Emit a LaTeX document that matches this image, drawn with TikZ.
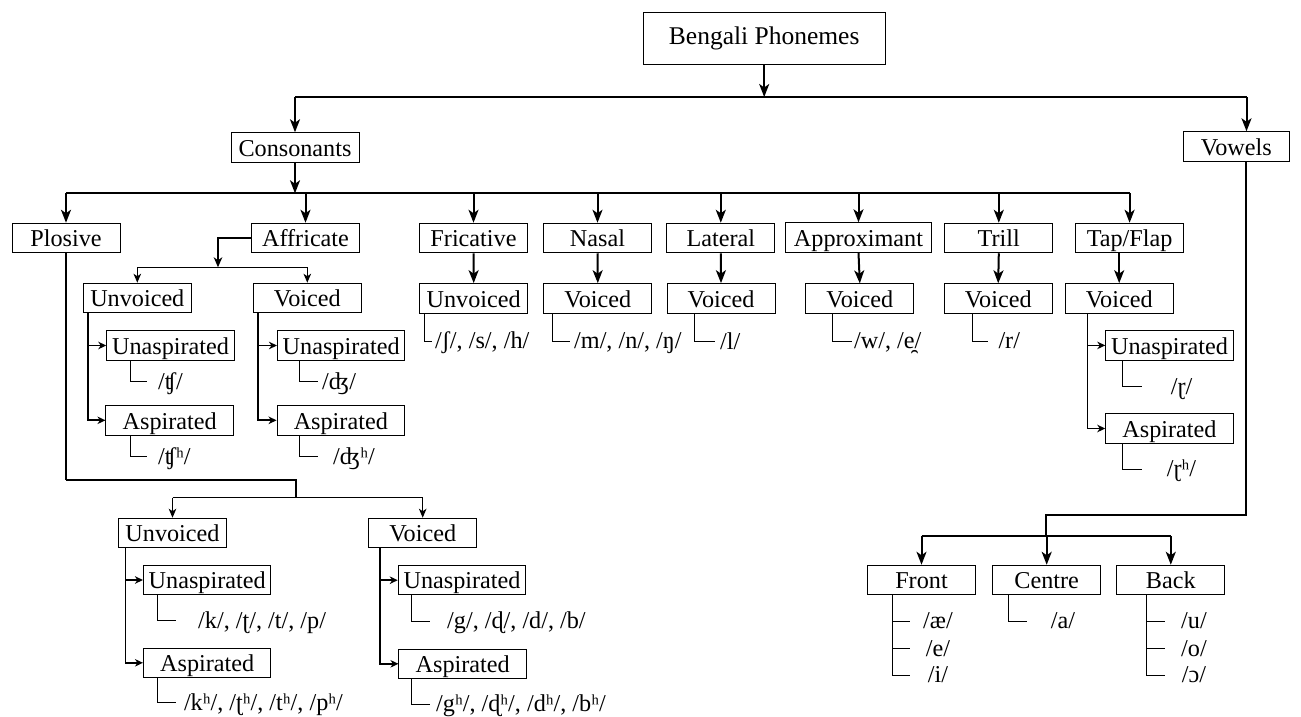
\documentclass[tikz,border=0pt]{standalone}
\usepackage{fontspec}
\setmainfont{Liberation Serif}
\usetikzlibrary{arrows.meta,calc}
\begin{document}
\begin{tikzpicture}[x=1pt,y=-1pt,
  every node/.style={font=\fontsize{24.2}{28}\selectfont},
  box/.style={draw, line width=1pt, inner xsep=0pt, inner ysep=3pt, minimum width=108pt, text height=20.5pt, text depth=3pt},
  wbox/.style={box, minimum width=127.5pt},
  ph/.style={anchor=west, inner sep=0pt, text height=19pt, text depth=4pt},
  phc/.style={anchor=center, inner sep=0pt, text height=19pt, text depth=4pt},
  big/.style={line width=2pt, -{Stealth[length=13pt,width=10pt,inset=3.5pt]}},
  thk/.style={line width=2pt},
  thn/.style={line width=1.3pt},
  mid/.style={line width=1.3pt, -{Stealth[length=9pt,width=7.5pt,inset=2.5pt]}},
  midthk/.style={line width=2pt, -{Stealth[length=10pt,width=8.5pt,inset=3pt]}},
  sml/.style={line width=1.7pt, -{Stealth[length=8pt,width=7.5pt,inset=2.5pt]}},
  tree/.style={line width=1pt}
]
\useasboundingbox (0,0) rectangle (1301,716);

% ---------- top levels ----------
\node[draw, line width=1pt, minimum width=241.7pt, minimum height=52pt, inner sep=0pt, font=\fontsize{25.5}{30}\selectfont] (bp) at (764.2,38.3) {Bengali Phonemes};
\node[box, minimum width=128pt] (cons) at (295,147.5) {Consonants};
\node[box, minimum width=106pt] (vow) at (1236.3,146.5) {Vowels};

\coordinate (j0) at (764.2,97);
\coordinate (jc) at (295,97);
\coordinate (jv) at (1246.5,97);
\draw[big] (bp.south) -- (j0);
\draw[thk] (jc) -- (jv);
\draw[big] (jc) -- (cons.north);
\draw[big] (jv) -- (jv |- vow.north);

% ---------- consonant classes ----------
\node[box] (plo) at (66,238) {Plosive};
\node[box] (aff) at (305.5,238) {Affricate};
\node[box] (fri) at (473.5,238) {Fricative};
\node[box] (nas) at (597.5,238) {Nasal};
\node[box] (lat) at (720.8,238) {Lateral};
\node[box, minimum width=145.7pt] (app) at (858.5,237.5) {Approximant};
\node[box] (tri) at (998.8,238) {Trill};
\node[box] (tap) at (1129.6,238) {Tap/Flap};

\coordinate (k0) at (295,193.3);
\draw[big] (cons.south) -- (k0);
\draw[thk] (plo.north |- k0) -- (tap.north |- k0);
\foreach \n in {plo,aff,fri,nas,lat,app,tri,tap}
  \draw[big] (\n.north |- k0) -- (\n.north);

% ---------- second row ----------
\node[box] (fu) at (473.7,298.4) {Unvoiced};
\node[box] (nv) at (597.8,298.4) {Voiced};
\node[box] (lv) at (721,298.4) {Voiced};
\node[box] (av) at (859.8,298.6) {Voiced};
\node[box] (tv) at (998.2,298.5) {Voiced};
\node[box] (tpv) at (1119.2,298.4) {Voiced};

\draw[big] (fri.south) -- (fu.north);
\draw[big] (nas.south) -- (nv.north);
\draw[big] (lat.south) -- (lv.north);
\draw[big] (app.south) -- (av.north);
\draw[big] (tri.south) -- (tv.north);
\draw[big] (tpv.north |- tap.south) -- (tpv.north);

\node[ph] (fut) at (435,341) {/ʃ/, /s/, /h/};
\node[ph] (nvt) at (574,341) {/m/, /n/, /ŋ/};
\node[ph] (lvt) at (720,341.5) {/l/};
\node[ph] (avt) at (854,341) {/w/, /e̯/};
\node[ph] (tvt) at (998.3,341) {/r/};
\draw[tree] ($(fu.south west)+(5.7,0)$) |- ([xshift=-3.3pt]fut.west);
\draw[tree] ($(nv.south west)+(8.7,0)$) |- ([xshift=-4pt]nvt.west);
\draw[tree] ($(lv.south west)+(28.4,0)$) |- ([xshift=-5pt]lvt.west);
\draw[tree] ($(av.south west)+(27,0)$) |- ([xshift=-2.3pt]avt.west);
\draw[tree] ($(tv.south west)+(28.7,0)$) |- ([xshift=-10pt]tvt.west);

% ---------- tap/flap subtree ----------
\node[wbox] (tpu) at (1169.5,345.4) {Unaspirated};
\node[wbox] (tpa) at (1169.5,428.5) {Aspirated};
\coordinate (tp1) at ($(tpv.south west)+(22.7,0)$);
\draw[sml] (tp1) |- (tpa.west);
\draw[sml] (tp1 |- tpu.west) -- (tpu.west);
\node[ph] (tput) at (1170.7,386.7) {/ɽ/};
\node[ph] (tpat) at (1166.7,469.3) {/ɽʰ/};
\draw[tree] ($(tpu.south west)+(17.6,0)$) |- ([xshift=-29pt]tput.west);
\draw[tree] ($(tpa.south west)+(17.6,0)$) |- ([xshift=-25pt]tpat.west);

% ---------- affricate subtree ----------
\node[box] (au) at (137.3,298) {Unvoiced};
\node[box] (avd) at (307.3,298) {Voiced};
\coordinate (a1) at (218,267.3);
\draw[midthk] (aff.west) -| (a1);
\draw[thn] (au.north |- a1) -- (avd.north |- a1);
\draw[mid] (au.north |- a1) -- (au.north);
\draw[mid] (avd.north |- a1) -- (avd.north);

\node[wbox] (auu) at (170.5,345.5) {Unaspirated};
\node[wbox] (aua) at (169.7,420.3) {Aspirated};
\node[wbox] (avu) at (341.2,345.5) {Unaspirated};
\node[wbox] (ava) at (340.8,420.3) {Aspirated};
\coordinate (au1) at ($(au.south west)+(5,0)$);
\draw[sml] (au1) |- (aua.west);
\draw[sml] (au1 |- auu.west) -- (auu.west);
\coordinate (av1) at ($(avd.south west)+(5,0)$);
\draw[sml] (av1) |- (ava.west);
\draw[sml] (av1 |- avu.west) -- (avu.west);

\node[ph] (auut) at (158,381.7) {/ʧ/};
\node[ph] (auat) at (158,456.7) {/ʧʰ/};
\node[ph] (avut) at (322,381.7) {/ʤ/};
\node[ph] (avat) at (333,456.7) {/ʤʰ/};
\draw[tree] ($(auu.south west)+(24.3,0)$) |- ([xshift=-11.3pt]auut.west);
\draw[tree] ($(aua.south west)+(25,0)$) |- ([xshift=-11.3pt]auat.west);
\draw[tree] ($(avu.south west)+(22.7,0)$) |- ([xshift=-4pt]avut.west);
\draw[tree] ($(ava.south west)+(22.7,0)$) |- ([xshift=-15pt]avat.west);

% ---------- plosive subtree ----------
\node[box] (pu) at (172.5,533) {Unvoiced};
\node[box] (pv) at (422.7,533) {Voiced};
\coordinate (p1) at (296,480);
\coordinate (p2) at (296,497.7);
\draw[thk] (plo.south) -- (plo.south |- p1);
\draw[thn] (plo.south |- p1) -- (p1) -- (p2);
\draw[thn] (pu.north |- p2) -- (pv.north |- p2);
\draw[mid] (pu.north |- p2) -- (pu.north);
\draw[mid] (pv.north |- p2) -- (pv.north);

\node[wbox] (puu) at (207.2,580) {Unaspirated};
\node[wbox] (pua) at (207.2,662.8) {Aspirated};
\node[wbox] (pvu) at (462,580.2) {Unaspirated};
\node[wbox] (pva) at (462.7,663.8) {Aspirated};
\coordinate (pu1) at ($(pu.south west)+(7.4,0)$);
\draw[sml] (pu1) |- (pua.west);
\draw[sml] (pu1 |- puu.west) -- (puu.west);
\coordinate (pv1) at ($(pv.south west)+(11.8,0)$);
\draw[sml] (pv1) |- (pva.west);
\draw[sml] (pv1 |- pvu.west) -- (pvu.west);

\node[ph] (puut) at (198,620.7) {/k/, /ʈ/, /t/, /p/};
\node[ph] (puat) at (183.8,702.7) {/kʰ/, /ʈʰ/, /tʰ/, /pʰ/};
\node[ph] (pvut) at (447,621) {/g/, /ɖ/, /d/, /b/};
\node[ph] (pvat) at (436,704.3) {/gʰ/, /ɖʰ/, /dʰ/, /bʰ/};
\draw[tree] ($(puu.south west)+(14.5,0)$) |- ([xshift=-22pt]puut.west);
\draw[tree] ($(pua.south west)+(14.5,0)$) |- ([xshift=-7.8pt]puat.west);
\draw[tree] ($(pvu.south west)+(13.9,0)$) |- ([xshift=-17pt]pvut.west);
\draw[tree] ($(pva.south west)+(13.3,0)$) |- ([xshift=-6pt]pvat.west);

% ---------- vowels ----------
\node[box] (fr) at (921.5,580) {Front};
\node[box] (ce) at (1046.7,580) {Centre};
\node[box] (ba) at (1170.8,580) {Back};
\coordinate (v1) at (1245.7,515);
\coordinate (v2) at (1045.7,515);
\coordinate (v3) at (1045.7,536);
\draw[thk] (vow.south -| v1) -- (v1) -- (v2) -- (v3);
\draw[thk] (fr.north |- v3) -- (ba.north |- v3);
\draw[big] (fr.north |- v3) -- (fr.north);
\draw[big] (ce.north |- v3) -- (ce.north);
\draw[big] (ba.north |- v3) -- (ba.north);

\node[phc] (fr1) at (938,621) {/æ/};
\node[phc] (fr2) at (938,648.7) {/e/};
\node[phc] (fr3) at (938,675) {/i/};
\coordinate (fl) at ($(fr.south west)+(25.4,0)$);
\draw[tree] (fl) |- ($(fl |- fr3)+(17.3,0)$);
\draw[tree] (fl |- fr1) -- ++(17.3,0);
\draw[tree] (fl |- fr2) -- ++(17.3,0);

\node[ph] (ce1) at (1050.7,621) {/a/};
\draw[tree] ($(ce.south west)+(16.3,0)$) |- ([xshift=-24pt]ce1.west);

\node[phc] (ba1) at (1194,621) {/u/};
\node[phc] (ba2) at (1194,648.7) {/o/};
\node[phc] (ba3) at (1194,675) {/ɔ/};
\coordinate (bl) at ($(ba.south west)+(30.6,0)$);
\draw[tree] (bl) |- ($(bl |- ba3)+(17.7,0)$);
\draw[tree] (bl |- ba1) -- ++(17.7,0);
\draw[tree] (bl |- ba2) -- ++(17.7,0);
\end{tikzpicture}
\end{document}
